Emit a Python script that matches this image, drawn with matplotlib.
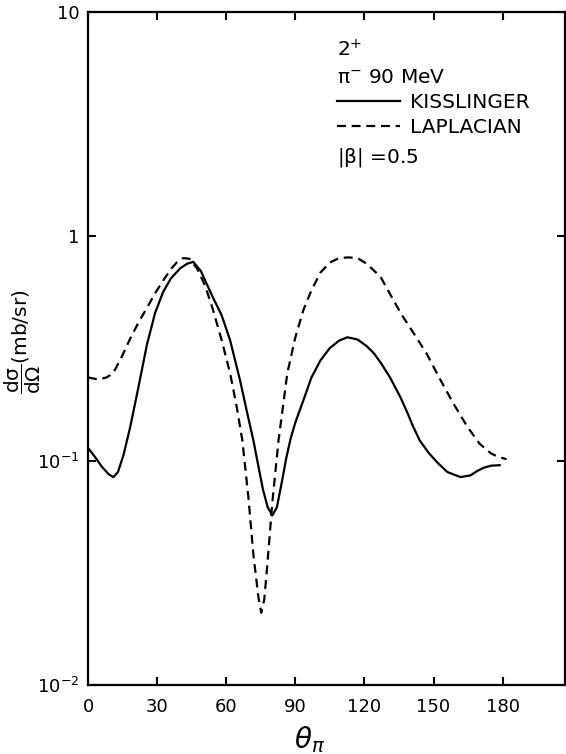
#!/usr/bin/env python3
import matplotlib
matplotlib.use("Agg")
import matplotlib.pyplot as plt
from matplotlib.lines import Line2D

# 2+ state, pi- at 90 MeV, |beta| = 0.5
kiss_angle = [0, 3, 6, 9, 11, 13, 15.4, 18.3, 21.9, 25.6, 29.1, 32.6, 36, 40, 43, 45.7, 49, 54,
			  58, 61.7, 66, 69, 71.8, 74, 76, 78, 80, 82, 84, 86, 88, 90, 93.5, 97, 100.9, 105,
			  109, 112.6, 117, 121, 124, 127, 131, 135.6, 138.7, 141, 144, 148, 151.7, 156,
			  161.7, 166, 169, 171.7, 175, 178.7]
kiss_xs = [0.114, 0.104, 0.094, 0.087, 0.0845, 0.089, 0.106, 0.141, 0.213, 0.33, 0.455, 0.565,
		   0.65, 0.72, 0.755, 0.77, 0.70, 0.54, 0.445, 0.344, 0.228, 0.165, 0.123, 0.094,
		   0.074, 0.062, 0.057, 0.062, 0.079, 0.102, 0.126, 0.148, 0.186, 0.235, 0.28, 0.318,
		   0.343, 0.355, 0.347, 0.324, 0.302, 0.274, 0.236, 0.192, 0.163, 0.143, 0.123, 0.108,
		   0.098, 0.089, 0.0845, 0.086, 0.090, 0.093, 0.095, 0.0955]

lap_angle = [0, 4.6, 8, 10.9, 14.6, 18.3, 22, 25.6, 29, 32.6, 36, 38.5, 41.3, 44, 47.3, 50.9,
			 54, 58, 61.7, 64.5, 67, 69.6, 71.8, 74, 75.2, 76.5, 77.8, 80, 82.7, 86.5, 90, 93.5,
			 97, 100.9, 105, 109, 113, 117, 121, 127, 130, 136, 141, 147, 153, 159, 164.8, 170,
			 174.8, 178, 181.7]
lap_xs = [0.235, 0.23, 0.235, 0.245, 0.29, 0.35, 0.415, 0.48, 0.555, 0.635, 0.715, 0.765, 0.80,
		  0.795, 0.72, 0.60, 0.48, 0.345, 0.245, 0.175, 0.123, 0.069, 0.038, 0.0245, 0.021,
		  0.024, 0.034, 0.065, 0.123, 0.245, 0.355, 0.47, 0.575, 0.69, 0.765, 0.80, 0.806,
		  0.80, 0.755, 0.66, 0.58, 0.45, 0.375, 0.30, 0.229, 0.177, 0.141, 0.119, 0.108,
		  0.104, 0.1016]

x_ticks = [0, 30, 60, 90, 120, 150, 180]
y_ticks = [0.01, 0.1, 1, 10]
y_tick_labels = ["$10^{-2}$", "$10^{-1}$", "1", "10"]
info_lines = ["$2^{+}$", "$\\pi^{-}$ 90 MeV", "$|\\beta|$ =0.5"]
model_names = ["KISSLINGER", "LAPLACIAN"]


def drawGraph():
	plt.rcParams["font.family"] = ["DejaVu Sans"]
	plt.rcParams["mathtext.default"] = "regular"
	fig = plt.figure(figsize=(5.66, 7.54), dpi=100)
	ax = fig.add_axes([0.1555, 0.0915, 0.8425, 0.8925])

	ax.plot(kiss_angle, kiss_xs, color="black", lw=1.6, solid_joinstyle="round")
	ax.plot(lap_angle, lap_xs, color="black", lw=1.6, dashes=(4, 2.6))

	ax.set_yscale("log")
	ax.set_xlim(0, 207)
	ax.set_ylim(0.01, 10)
	ax.set_xticks(x_ticks)
	ax.set_yticks(y_ticks)
	ax.set_yticklabels(y_tick_labels)
	ax.minorticks_off()
	ax.tick_params(direction="in", length=6, width=1.5, top=True, right=True,
				   labelsize=13, color="black")
	ax.tick_params(axis="x", pad=9)
	ax.tick_params(axis="y", pad=6)
	for s in ax.spines.values():
		s.set_linewidth(1.6)

	ax.set_xlabel("$\\theta_{\\pi}$", fontsize=20, style="italic")
	ax.xaxis.set_label_coords(0.465, -0.058)
	ax.set_ylabel("$\\dfrac{d\\sigma}{d\\Omega}$(mb/sr)", fontsize=14.5)
	ax.yaxis.set_label_coords(-0.095, 0.51)

	# text block of the key
	fs = 14.5
	ax.text(0.522, 0.9435, info_lines[0], transform=ax.transAxes, fontsize=fs, va="center")
	ax.text(0.522, 0.9034, info_lines[1], transform=ax.transAxes, fontsize=fs, va="center")
	ax.text(0.522, 0.7845, info_lines[2], transform=ax.transAxes, fontsize=fs, va="center")

	handles = [Line2D([], [], color="black", lw=1.6),
			   Line2D([], [], color="black", lw=1.6, dashes=(4, 2.6))]
	ax.legend(handles, model_names, loc="center left", bbox_to_anchor=(0.522, 0.847),
			  frameon=False, fontsize=fs, handlelength=3.15, handletextpad=0.5,
			  labelspacing=0.3, borderpad=0, borderaxespad=0)

	fig.savefig("out.png", dpi=100)


def main():
	drawGraph()


if __name__ == '__main__':
	main()
